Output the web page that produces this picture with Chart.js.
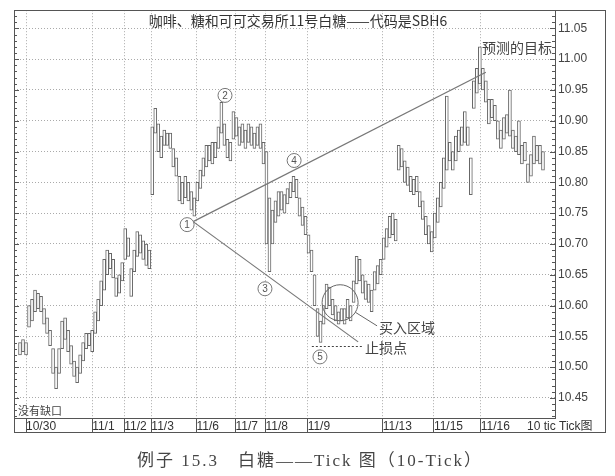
<!DOCTYPE html>
<html><head><meta charset="utf-8">
<script src="https://cdn.jsdelivr.net/npm/chart.js@4"></script>
<style>html,body{margin:0;padding:0;background:#fff}canvas{display:block}</style>
</head><body>
<canvas id="c" width="615" height="476"></canvas>
<script>
// ---- text ----
const chartTitle = '咖啡、糖和可可交易所11号白糖——代码是SBH6';
const caption = '例子 15.3　白糖——Tick 图（10-Tick）';

// ---- 10-tick bars (index, low/high) ----
const firstBar = 2;
const lows = [
10.52,10.525,10.52,10.565,10.575,10.59,10.595,10.59,10.57,10.555,
10.535,10.49,10.465,10.49,10.53,10.545,10.525,10.505,10.485,10.475,
10.49,10.51,10.53,10.535,10.525,10.555,10.575,10.60,10.625,10.65,
10.66,10.645,10.615,10.62,10.64,10.675,10.68,10.615,10.655,10.68,
10.685,10.675,10.665,10.66,10.78,10.88,10.85,10.84,10.86,10.86,
10.855,10.825,10.81,10.77,10.765,10.775,10.77,10.755,10.745,10.77,
10.79,10.81,10.825,10.835,10.83,10.84,10.855,10.88,10.86,10.84,
10.835,10.87,10.875,10.86,10.865,10.855,10.865,10.86,10.855,10.86,
10.855,10.83,10.70,10.655,10.70,10.735,10.745,10.755,10.75,10.765,
10.775,10.785,10.775,10.745,10.73,10.715,10.685,10.655,10.60,10.55,
10.54,10.57,10.595,10.60,10.585,10.575,10.57,10.575,10.57,10.58,
10.575,10.605,10.635,10.64,10.62,10.61,10.605,10.59,10.625,10.635,
10.65,10.675,10.695,10.71,10.715,10.705,10.82,10.825,10.80,10.795,
10.785,10.78,10.785,10.76,10.74,10.715,10.70,10.687,10.71,10.735,
10.76,10.79,10.82,10.835,10.82,10.835,10.85,10.86,10.865,10.86,
10.78,10.92,10.945,10.96,10.95,10.93,10.895,10.905,10.90,10.87,
10.855,10.87,10.88,10.875,10.855,10.85,10.845,10.83,10.835,10.80,
10.81,10.83,10.835,10.83,10.82];
const highs = [
10.54,10.545,10.54,10.60,10.61,10.625,10.62,10.615,10.595,10.58,
10.56,10.53,10.50,10.53,10.575,10.58,10.56,10.535,10.51,10.50,
10.52,10.54,10.555,10.555,10.56,10.59,10.61,10.64,10.675,10.69,
10.685,10.675,10.645,10.65,10.67,10.725,10.71,10.66,10.69,10.72,
10.715,10.705,10.70,10.69,10.89,10.92,10.895,10.875,10.885,10.88,
10.88,10.855,10.84,10.81,10.80,10.81,10.80,10.785,10.775,10.80,
10.82,10.84,10.86,10.86,10.865,10.865,10.89,10.93,10.895,10.87,
10.865,10.915,10.905,10.89,10.895,10.885,10.895,10.89,10.88,10.89,
10.895,10.865,10.85,10.775,10.755,10.77,10.785,10.785,10.78,10.79,
10.80,10.81,10.805,10.775,10.76,10.745,10.715,10.69,10.65,10.595,
10.575,10.60,10.635,10.63,10.61,10.60,10.59,10.595,10.595,10.61,
10.60,10.64,10.68,10.675,10.65,10.64,10.635,10.625,10.655,10.665,
10.675,10.71,10.725,10.745,10.75,10.74,10.86,10.855,10.835,10.825,
10.81,10.805,10.81,10.785,10.77,10.745,10.73,10.72,10.75,10.775,
10.80,10.84,10.94,10.865,10.85,10.875,10.885,10.89,10.915,10.89,
10.84,10.965,10.985,11.02,10.985,10.965,10.935,10.935,10.925,10.90,
10.885,10.905,10.91,10.95,10.885,10.875,10.90,10.86,10.865,10.83,
10.845,10.875,10.86,10.86,10.85];

// ---- axes ----
const xTickPos = [4, 26, 36.7, 45.7, 60.7, 73.7, 83.7, 97.7, 122.7, 139.7, 155.3, 170.7];
const xTickLabels = ['10/30','11/1','11/2','11/3','11/6','11/7','11/8','11/9','11/13','11/15','11/16','10 tic Tick图'];
const yTickLabels = ['10.45','10.50','10.55','10.60','10.65','10.70','10.75','10.80','10.85','10.90','10.95','11.00','11.05'];
const xMin = 0, xMax = 180, yMin = 10.4175, yMax = 11.0795;

// ---- annotations (data coordinates) ----
const circledMarks = [
  {t:'1', x:57.6, y:10.7314}, {t:'2', x:70.2, y:10.9412}, {t:'3', x:83.5, y:10.6273},
  {t:'4', x:93.2, y:10.8355}, {t:'5', x:101.8, y:10.5167}];
const trendLines = [
  {x1:59.6, y1:10.7363, x2:157.0, y2:10.9787},
  {x1:59.6, y1:10.7363, x2:114.5, y2:10.5411}];
const buyZone = {x:108.5, y:10.6046, label:'买入区域', lx:120.8, ly:10.5671};
const stopLine = {x1:99.1, x2:116.1, y:10.5346, label:'止损点'};
const targetText = {x:155.7, y:11.0193, label:'预测的目标'};
const noGapText = {x:1.3, y:10.4289, label:'没有缺口'};
const titlePos = {x:94.5, y:11.0632};

const isMajor = v => Math.abs(v * 20 - Math.round(v * 20)) < 1e-6;
const cjk = '"Noto Sans CJK SC", "Liberation Sans", sans-serif';

const annotPlugin = {
  id: 'annot',
  afterDatasetsDraw(chart) {
    const {ctx, chartArea: ca, scales: {x, y}} = chart;
    const X = v => x.getPixelForValue(v), Y = v => y.getPixelForValue(v);
    ctx.save();
    // inward minor ticks on both sides
    ctx.strokeStyle = '#555'; ctx.lineWidth = 1;
    y.ticks.forEach(t => {
      const py = Math.round(Y(t.value)) + 0.5;
      const len = isMajor(t.value) ? 5 : 3;
      ctx.beginPath();
      ctx.moveTo(ca.left, py); ctx.lineTo(ca.left + len, py);
      ctx.moveTo(ca.right, py); ctx.lineTo(ca.right - len, py);
      ctx.stroke();
    });
    // trend lines
    ctx.strokeStyle = '#777'; ctx.lineWidth = 1.2;
    trendLines.forEach(l => {
      ctx.beginPath(); ctx.moveTo(X(l.x1), Y(l.y1)); ctx.lineTo(X(l.x2), Y(l.y2)); ctx.stroke();
    });
    // buy zone circle + leader
    const cx = X(buyZone.x), cy = Y(buyZone.y), r = 18;
    ctx.strokeStyle = '#666'; ctx.lineWidth = 1;
    ctx.beginPath(); ctx.arc(cx, cy, r, 0, Math.PI * 2); ctx.stroke();
    const ex = X(buyZone.lx), ey = Y(buyZone.ly);
    const ang = Math.atan2(ey - cy, ex - cx);
    ctx.beginPath(); ctx.moveTo(cx + r * Math.cos(ang), cy + r * Math.sin(ang)); ctx.lineTo(ex, ey); ctx.stroke();
    ctx.fillStyle = '#444'; ctx.font = '14px ' + cjk; ctx.textAlign = 'left'; ctx.textBaseline = 'middle';
    ctx.fillText(buyZone.label, ex + 2, ey + 2);
    // stop line
    ctx.setLineDash([2, 2]); ctx.strokeStyle = '#444';
    const sy = Math.round(Y(stopLine.y)) + 0.5;
    ctx.beginPath(); ctx.moveTo(X(stopLine.x1), sy); ctx.lineTo(X(stopLine.x2), sy); ctx.stroke();
    ctx.setLineDash([]);
    ctx.fillText(stopLine.label, X(stopLine.x2) + 2, sy + 1);
    // target / no gap
    ctx.fillText(targetText.label, X(targetText.x), Y(targetText.y));
    ctx.font = '11px ' + cjk;
    ctx.fillText(noGapText.label, X(noGapText.x), Y(noGapText.y));
    // circled numbers
    circledMarks.forEach(m => {
      const px = X(m.x), py = Y(m.y);
      ctx.beginPath(); ctx.arc(px, py, 7, 0, Math.PI * 2);
      ctx.fillStyle = '#fff'; ctx.fill(); ctx.strokeStyle = '#777'; ctx.lineWidth = 1; ctx.stroke();
      ctx.fillStyle = '#555'; ctx.font = '10px "Liberation Sans", sans-serif'; ctx.textAlign = 'center';
      ctx.fillText(m.t, px, py + 0.5);
    });
    // title
    ctx.fillStyle = '#333'; ctx.font = '14px ' + cjk; ctx.textAlign = 'center';
    ctx.fillText(chartTitle, X(titlePos.x), Y(titlePos.y));
    ctx.restore();
  },
  afterDraw(chart) {
    const {ctx, chartArea: ca, scales: {x, y}} = chart;
    ctx.save();
    ctx.strokeStyle = '#555'; ctx.lineWidth = 1;
    ctx.strokeRect(Math.round(ca.left) + 0.5, Math.round(ca.top) + 0.5,
      Math.round(y.right - ca.left) - 1, Math.round(x.bottom - ca.top));
    // caption
    ctx.fillStyle = '#444';
    ctx.font = '17px "Liberation Serif", "Noto Sans CJK SC", serif';
    if ('letterSpacing' in ctx) ctx.letterSpacing = '2px';
    ctx.textAlign = 'center'; ctx.textBaseline = 'middle';
    ctx.fillText(caption, (ca.left + y.right) / 2, (x.bottom + chart.height) / 2 + 8);
    ctx.restore();
  }
};

new Chart(document.getElementById('c'), {
  type: 'bar',
  data: {
    datasets: [{
      data: lows.map((lo, i) => ({x: firstBar + i, y: [lo, highs[i]]})),
      backgroundColor: '#fff', borderColor: '#666', borderWidth: 1,
      borderSkipped: false, barThickness: 3, grouped: false
    }]
  },
  options: {
    responsive: false, animation: false, events: [],
    layout: {padding: {left: 14, top: 10, right: 9, bottom: 44}},
    plugins: {legend: {display: false}, tooltip: {enabled: false}, title: {display: false}},
    scales: {
      x: {
        type: 'linear', min: xMin, max: xMax, offset: false,
        afterBuildTicks: s => { s.ticks = xTickPos.map(v => ({value: v})); },
        afterFit: s => { s.height = 14; },
        ticks: {autoSkip: false, maxRotation: 0, minRotation: 0, align: 'start', padding: -13,
          color: '#333', font: {size: 12, family: '"Liberation Sans", "Noto Sans CJK SC", sans-serif'},
          callback: (v, i) => xTickLabels[i]},
        grid: {offset: false, tickLength: 14,
          color: c => c.index === xTickPos.length - 1 ? 'rgba(0,0,0,0)' : '#aaa',
          tickColor: c => c.index === xTickPos.length - 1 ? 'rgba(0,0,0,0)' : '#555'},
        border: {color: '#555', dash: [1, 2]}
      },
      y: {
        position: 'right', min: yMin, max: yMax, beginAtZero: false,
        afterBuildTicks: s => { const t = []; for (let k = 1042; k <= 1107; k++) t.push({value: k / 100}); s.ticks = t; },
        afterFit: s => { s.width = 51; },
        ticks: {autoSkip: false, padding: 3, color: '#444',
          font: {size: 12, family: '"Liberation Sans", sans-serif'},
          callback: v => isMajor(v) ? (yTickLabels.find(l => Math.abs(parseFloat(l) - v) < 1e-6) || '') : ''},
        grid: {drawTicks: false, color: c => isMajor(c.tick.value) ? '#aaa' : 'rgba(0,0,0,0)'},
        border: {color: '#555', dash: [1, 2]}
      }
    }
  },
  plugins: [annotPlugin]
});
</script>
</body></html>
